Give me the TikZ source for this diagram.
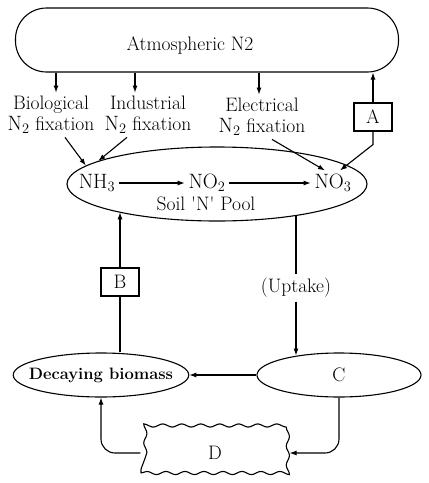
\documentclass[tikz,border=0pt]{standalone}
\usepackage{tikz}
\usetikzlibrary{arrows.meta,positioning,calc,shapes.geometric,decorations.pathmorphing}

\begin{document}
\begin{tikzpicture}[
  x=1pt, y=-1pt,
  line width=1.1pt,
  every node/.style={font=\fontsize{19.5}{21}\selectfont},
  box/.style={draw, minimum width=38pt, minimum height=28pt, inner sep=2pt},
  pool/.style={draw, ellipse, minimum width=300pt, minimum height=74pt},
  oval/.style={draw, ellipse, minimum width=166pt, minimum height=44pt, inner sep=0pt},
  lbl/.style={align=center, inner sep=3pt},
  wavy/.style={draw, decorate, decoration={snake, segment length=19pt, amplitude=1.6pt},
    minimum width=148pt, minimum height=40pt},
  arrow/.style={-{Latex[length=7pt, width=5pt]}}
]
\useasboundingbox (0,0) rectangle (429,483);

\node[draw, rounded corners=31pt, minimum width=383pt, minimum height=64pt] (atm) at (207,40) {};
\node (atmt) at (190,46) {Atmospheric N2};
\node[lbl] (bio) at (51,115) {Biological\\$\mathrm{N}_2$ fixation};
\node[lbl] (ind) at (148,115) {Industrial\\$\mathrm{N}_2$ fixation};
\node[lbl] (ele) at (262,117) {Electrical\\$\mathrm{N}_2$ fixation};
\node[box] (A) at (373,117) {A};

\node[pool] (soil) at (217,184) {};
\node (nh3) at (97,183) {$\mathrm{NH_3}$};
\node (no2) at (207,183) {$\mathrm{NO_2}$};
\node (no3) at (333,183) {$\mathrm{NO_3}$};
\node (pool) at (206,204) {Soil \textquotesingle N\textquotesingle\ Pool};

\node[box] (B) at (120,282) {B};
\node (upt) at (296,288) {(Uptake)};

\node[oval, inner xsep=-10pt, minimum width=170pt,
  font=\fontsize{16.5}{18}\selectfont\bfseries] (dec) at (101,375) {Decaying biomass};
\node[oval, minimum width=164pt] (C) at (339,375) {C};
\node[wavy] (D) at (215,453) {D};

% from the atmosphere
\draw[arrow] ($(atm.south -| bio.north)+(5,0)$) -- ($(bio.north)+(5,0)$);
\draw[arrow] ($(atm.south -| ind.north)+(-13,0)$) -- ($(ind.north)+(-13,0)$);
\draw[arrow] ($(atm.south -| ele.north)+(-3,0)$) -- ($(ele.north)+(-3,0)$);
\draw[arrow] (A.north) -- (A.north |- atm.south);

% into the soil pool
\draw[arrow] ($(bio.south)+(14,0)$) -- (soil.172);
\draw[arrow] ($(ind.south)+(-21,0)$) -- (soil.169);
\draw[arrow] ($(ele.south)+(10,0)$) -- ($(no3.north)+(-8,0)$);
\draw[arrow] (A.south) -- ++(0,13) -- ($(no3.north)+(7,0)$);
\draw[arrow] (nh3) -- (no2);
\draw[arrow] (no2) -- (no3);

% cycle below
\draw (dec.north -| B) -- (B.south);
\draw[arrow] (B.north) -- (B.north |- soil.-164);
\draw (upt.north |- soil.-23) -- (upt.north);
\draw[arrow] (upt.south) -- (upt.south |- C.155);
\draw[arrow] (C) -- (dec);
\draw[arrow, rounded corners=14pt] (C.south) |- (D.east);
\draw[arrow, rounded corners=14pt] (D.west) -| (dec.south);

\end{tikzpicture}
\end{document}
